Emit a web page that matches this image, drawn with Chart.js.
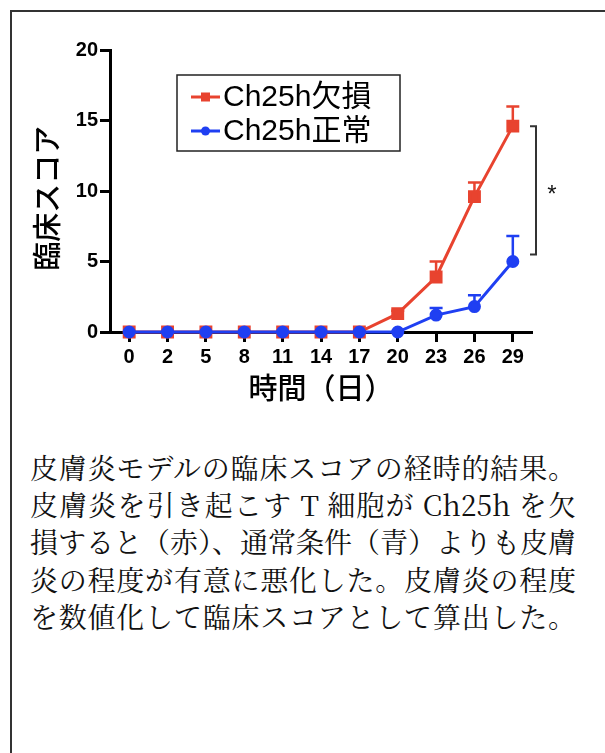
<!DOCTYPE html>
<html lang="ja">
<head>
<meta charset="utf-8">
<title>臨床スコアの経時的結果</title>
<script src="https://cdn.jsdelivr.net/npm/chart.js@4/dist/chart.umd.min.js"></script>
<style>
  html, body { margin: 0; padding: 0; background: #fff; }
  body { width: 605px; height: 753px; position: relative; overflow: hidden; }
  .frame {
    position: absolute; left: 10px; top: 10px; right: -10px; bottom: -10px;
    border-left: 2px solid #333; border-top: 2px solid #333;
  }
  .plot { position: absolute; left: 0; top: 0; width: 605px; height: 430px; }
  .caption {
    position: absolute; left: 30px; top: 449px; width: 546px;
    font-family: "Noto Serif CJK JP", "Liberation Serif", "Noto Sans CJK JP", serif;
    font-size: 28px; line-height: 37.2px; color: #111;
  }
  .caption div { text-align: justify; text-align-last: justify; white-space: nowrap; }
</style>
</head>
<body>
<div class="frame"></div>
<div class="plot"><canvas id="c" width="605" height="430"></canvas></div>
<div class="caption">
  <div>皮膚炎モデルの臨床スコアの経時的結果。</div>
  <div>皮膚炎を引き起こす T 細胞が Ch25h を欠</div>
  <div>損すると（赤）、通常条件（青）よりも皮膚</div>
  <div>炎の程度が有意に悪化した。皮膚炎の程度</div>
  <div>を数値化して臨床スコアとして算出した。</div>
</div>
<script>
// Days after induction
const days = ['0', '2', '5', '8', '11', '14', '17', '20', '23', '26', '29'];

// Mean clinical score, Ch25h-deficient T cells
const deficientScore = [0, 0, 0, 0, 0, 0, 0, 1.3, 3.9, 9.6, 14.6];
const deficientErr   = [0, 0, 0, 0, 0, 0, 0, 0.2, 1.1, 1.0, 1.4];

// Mean clinical score, Ch25h-normal T cells
const normalScore = [0, 0, 0, 0, 0, 0, 0, 0, 1.2, 1.8, 5.0];
const normalErr   = [0, 0, 0, 0, 0, 0, 0, 0, 0.5, 0.8, 1.8];

const seriesNames = ['Ch25h欠損', 'Ch25h正常'];
const yTicks = [0, 5, 10, 15, 20];

// Significance bracket at day 29 (score range)
const bracketRange = [14.6, 5.5];

const RED = '#e8432f';
const BLUE = '#1f3ff2';
const LATIN = '"Liberation Sans", Arial, "Noto Sans CJK JP", sans-serif';
const CJK = '"Noto Sans CJK JP", sans-serif';

// Upper-only error bars with caps
const errorBars = {
  id: 'errorBars',
  beforeDatasetsDraw(chart) {
    const ctx = chart.ctx;
    const y = chart.scales.y;
    chart.data.datasets.forEach((ds, di) => {
      const meta = chart.getDatasetMeta(di);
      ctx.save();
      ctx.strokeStyle = ds.borderColor;
      ctx.lineWidth = 2.5;
      meta.data.forEach((pt, i) => {
        const e = ds.errUp[i];
        if (!e) return;
        const y0 = y.getPixelForValue(ds.data[i]);
        const y1 = y.getPixelForValue(ds.data[i] + e);
        ctx.beginPath();
        ctx.moveTo(pt.x, y0);
        ctx.lineTo(pt.x, y1);
        ctx.moveTo(pt.x - 6.5, y1);
        ctx.lineTo(pt.x + 6.5, y1);
        ctx.stroke();
      });
      ctx.restore();
    });
  }
};

// Boxed legend inside the plot area, plus the significance bracket
const overlay = {
  id: 'overlay',
  afterDraw(chart) {
    const ctx = chart.ctx;
    const a = chart.chartArea;
    const y = chart.scales.y;

    // legend box
    const bx = a.left + 67, by = a.top + 25, bw = 223, bh = 76;
    ctx.save();
    ctx.strokeStyle = '#222';
    ctx.lineWidth = 1.5;
    ctx.strokeRect(bx, by, bw, bh);
    const order = [1, 0]; // deficient first, normal second
    order.forEach((di, row) => {
      const ds = chart.data.datasets[di];
      const cy = by + 22 + row * 34;
      ctx.strokeStyle = ds.borderColor;
      ctx.lineWidth = 3;
      ctx.beginPath();
      ctx.moveTo(bx + 14, cy);
      ctx.lineTo(bx + 43, cy);
      ctx.stroke();
      ctx.fillStyle = ds.borderColor;
      if (ds.pointStyle === 'rect') {
        ctx.fillRect(bx + 28.5 - 4.5, cy - 4.5, 9, 9);
      } else {
        ctx.beginPath();
        ctx.arc(bx + 28.5, cy, 4.5, 0, Math.PI * 2);
        ctx.fill();
      }
      ctx.fillStyle = '#000';
      ctx.font = '30px ' + LATIN;
      ctx.textBaseline = 'middle';
      ctx.textAlign = 'left';
      ctx.fillText(ds.label, bx + 46, cy + 1);
    });

    // bracket
    const xr = a.right + 4;
    const yt = y.getPixelForValue(bracketRange[0]);
    const yb = y.getPixelForValue(bracketRange[1]);
    ctx.strokeStyle = '#333';
    ctx.lineWidth = 2;
    ctx.beginPath();
    ctx.moveTo(xr - 6, yt);
    ctx.lineTo(xr, yt);
    ctx.lineTo(xr, yb);
    ctx.lineTo(xr - 6, yb);
    ctx.stroke();
    ctx.fillStyle = '#111';
    ctx.font = '24px ' + LATIN;
    ctx.textAlign = 'center';
    ctx.textBaseline = 'middle';
    ctx.fillText('*', xr + 16, (yt + yb) / 2 + 5);
    ctx.restore();
  }
};

Chart.defaults.font.family = LATIN;
Chart.defaults.color = '#000';

new Chart(document.getElementById('c'), {
  type: 'line',
  data: {
    labels: days,
    datasets: [
      {
        label: seriesNames[1],
        data: normalScore,
        errUp: normalErr,
        borderColor: BLUE,
        backgroundColor: BLUE,
        pointStyle: 'circle',
        pointRadius: 5,
        borderWidth: 3,
        order: 1,
        clip: false
      },
      {
        label: seriesNames[0],
        data: deficientScore,
        errUp: deficientErr,
        borderColor: RED,
        backgroundColor: RED,
        pointStyle: 'rect',
        pointRadius: 7,
        borderWidth: 3,
        order: 2,
        clip: false
      }
    ]
  },
  options: {
    responsive: false,
    animation: false,
    layout: { padding: { left: 30, right: 73, top: 50, bottom: 8 } },
    plugins: { legend: { display: false }, tooltip: { enabled: false } },
    elements: { line: { tension: 0 }, point: { borderWidth: 0 } },
    scales: {
      x: {
        type: 'category',
        offset: true,
        afterFit(s) { s.height = 90; },
        grid: {
          offset: false, drawOnChartArea: false, drawTicks: true,
          tickLength: 10, tickWidth: 3, tickColor: '#000'
        },
        border: { display: true, color: '#000', width: 3 },
        ticks: { font: { size: 20, weight: 'bold' }, padding: 3, maxRotation: 0, autoSkip: false },
        title: {
          display: true, text: '時間（日）', color: '#000',
          font: { family: CJK, size: 29, weight: '500' },
          padding: { bottom: 17 }
        }
      },
      y: {
        min: 0, max: 20,
        afterFit(s) { s.width = 80; },
        afterBuildTicks(s) { s.ticks = yTicks.map(v => ({ value: v })); },
        grid: {
          drawOnChartArea: false, drawTicks: true,
          tickLength: 10, tickWidth: 3, tickColor: '#000'
        },
        border: { display: true, color: '#000', width: 3 },
        ticks: { font: { size: 20, weight: 'bold' }, padding: 2 },
        title: {
          display: true, text: '臨床スコア\u2002', color: '#000',
          font: { family: CJK, size: 29, weight: '500' },
          padding: { top: 0 }
        }
      }
    }
  },
  plugins: [errorBars, overlay]
});
</script>
</body>
</html>
